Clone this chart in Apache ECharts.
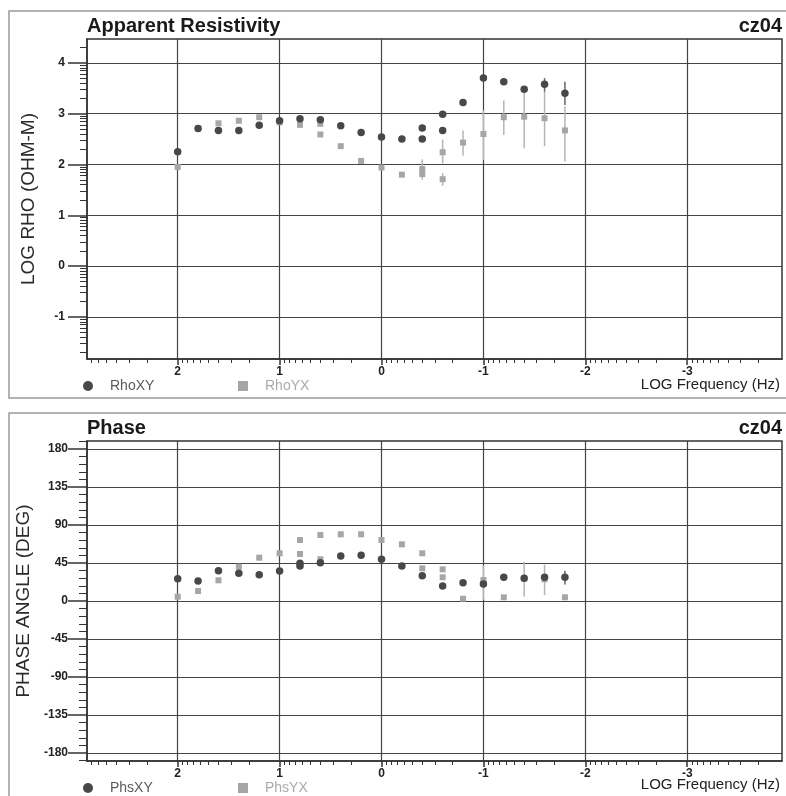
<!DOCTYPE html>
<html>
<head>
<meta charset="utf-8">
<script src="https://cdn.jsdelivr.net/npm/echarts@6/dist/echarts.min.js"></script>
<style>
html, body { margin: 0; padding: 0; background: #fff; }
#main { width: 786px; height: 796px; }
</style>
</head>
<body>
<div id="main"></div>
<script>
// log10 frequency of each sounding point
var rhoXYFreq = [2.0, 1.8, 1.6, 1.4, 1.2, 1.0, 0.8, 0.6, 0.4, 0.2, 0.0, -0.2, -0.4, -0.4, -0.6, -0.6, -0.8, -1.0, -1.2, -1.4, -1.6, -1.8];
var rhoXY = [2.25, 2.71, 2.67, 2.67, 2.77, 2.86, 2.90, 2.88, 2.76, 2.63, 2.54, 2.50, 2.50, 2.72, 2.99, 2.67, 3.22, 3.70, 3.63, 3.48, 3.58, 3.40];
var rhoYXFreq = [2.0, 1.8, 1.6, 1.4, 1.2, 1.0, 0.8, 0.6, 0.6, 0.4, 0.2, 0.0, -0.2, -0.4, -0.4, -0.6, -0.6, -0.8, -1.0, -1.2, -1.4, -1.6, -1.8];
var rhoYX = [1.95, 2.71, 2.81, 2.86, 2.93, 2.83, 2.78, 2.80, 2.59, 2.36, 2.07, 1.94, 1.80, 1.91, 1.81, 2.24, 1.71, 2.43, 2.60, 2.93, 2.94, 2.91, 2.67];

// error bars (low / high)
var rhoXYErrFreq = [-1.6, -1.8];
var rhoXYErrLo = [3.43, 3.17];
var rhoXYErrHi = [3.70, 3.63];
var rhoYXErrFreq = [-0.4, -0.6, -0.6, -0.8, -1.0, -1.2, -1.4, -1.6, -1.8];
var rhoYXErrLo = [1.70, 2.02, 1.58, 2.17, 2.09, 2.58, 2.32, 2.36, 2.06];
var rhoYXErrHi = [2.10, 2.49, 1.83, 2.67, 3.07, 3.26, 3.43, 3.43, 3.14];

var phsXYFreq = [2.0, 1.8, 1.6, 1.4, 1.2, 1.0, 0.8, 0.8, 0.6, 0.4, 0.2, 0.0, -0.2, -0.4, -0.6, -0.8, -1.0, -1.2, -1.4, -1.6, -1.8];
var phsXY = [26.4, 23.7, 35.9, 32.8, 31.2, 35.5, 41.4, 44.6, 45.4, 53.3, 54.1, 49.4, 41.4, 30.0, 17.8, 21.7, 20.1, 28.1, 26.8, 28.1, 28.1];
var phsYXFreq = [2.0, 1.8, 1.6, 1.4, 1.2, 1.0, 0.8, 0.8, 0.6, 0.6, 0.4, 0.2, 0.0, -0.2, -0.4, -0.4, -0.6, -0.6, -0.8, -1.0, -1.2, -1.4, -1.6, -1.8];
var phsYX = [5.1, 11.8, 24.5, 40.6, 51.3, 56.5, 72.2, 55.7, 78.2, 49.4, 79.0, 79.0, 72.2, 67.1, 56.5, 38.7, 37.5, 28.1, 2.7, 24.9, 4.4, 26.8, 25.7, 4.4];

var phsXYErrFreq = [-1.8];
var phsXYErrLo = [19.5];
var phsXYErrHi = [35.9];
var phsYXErrFreq = [-1.0, -1.4, -1.6];
var phsYXErrLo = [1.5, 5.0, 7.0];
var phsYXErrHi = [42.0, 46.5, 43.0];

// tick labels
var freqTicks = [2, 1, 0, -1, -2, -3];
var rhoTicks = [-1, 0, 1, 2, 3, 4];
var phaseTicks = [-180, -135, -90, -45, 0, 45, 90, 135, 180];

var xMin = -3.93, xMax = 2.89;
var rhoMin = -1.83, rhoMax = 4.47;
var phsMin = -189.5, phsMax = 189.5;

var FONT = 'Liberation Sans, Arial, sans-serif';
var DARK = '#484848';
var LIGHT = '#a6a6a6';

// log-decade minor ticks (2..9 in every decade)
function logMinor(lo, hi) {
    var out = [];
    for (var d = Math.floor(lo); d < hi; d++) {
        for (var k = 2; k <= 9; k++) {
            var v = d + Math.log10(k);
            if (v > lo && v < hi) out.push(v);
        }
    }
    return out;
}
function linMinor(lo, hi, step, major) {
    var out = [];
    for (var v = Math.ceil(lo / step) * step; v < hi; v += step) {
        if (v % major !== 0) out.push(v);
    }
    return out;
}

function pairs(xs, ys) {
    return xs.map(function (x, i) { return [x, ys[i]]; });
}

function freqAxis(grid) {
    return {
        type: 'value', gridIndex: grid, inverse: true, min: xMin, max: xMax, position: 'bottom',
        axisLine: { onZero: false, lineStyle: { color: '#333', width: 1.5 } },
        axisTick: { customValues: freqTicks, length: 6, lineStyle: { color: '#333', width: 1.5 } },
        axisLabel: { customValues: freqTicks, margin: 7, color: '#222', fontSize: 12, fontWeight: 'bold', fontFamily: FONT },
        splitLine: { show: true, lineStyle: { color: '#444', width: 1.2 } }
    };
}
function minorX(grid) {
    return {
        type: 'value', gridIndex: grid, inverse: true, min: xMin, max: xMax, position: 'bottom',
        axisLine: { show: false, onZero: false },
        axisTick: { customValues: logMinor(xMin, xMax), length: 4, lineStyle: { color: '#333', width: 1 } },
        axisLabel: { show: false },
        splitLine: { show: false }
    };
}
function valueAxis(grid, min, max, ticks, name, margin) {
    return {
        type: 'value', gridIndex: grid, min: min, max: max, position: 'left',
        name: name, nameLocation: 'middle', nameGap: 49,
        nameTextStyle: { fontSize: 19, color: '#2a2a2a', fontFamily: FONT },
        axisLine: { onZero: false, lineStyle: { color: '#333', width: 1.5 } },
        axisTick: { customValues: ticks, length: 19, lineStyle: { color: '#333', width: 1.5 } },
        axisLabel: { customValues: ticks, margin: margin, color: '#222', fontSize: 12, fontWeight: 'bold', fontFamily: FONT },
        splitLine: { show: true, lineStyle: { color: '#444', width: 1.2 } }
    };
}
function minorY(grid, min, max, ticks, len) {
    return {
        type: 'value', gridIndex: grid, min: min, max: max, position: 'left',
        axisLine: { show: false, onZero: false },
        axisTick: { customValues: ticks, length: len, lineStyle: { color: '#333', width: 1 } },
        axisLabel: { show: false },
        splitLine: { show: false }
    };
}

function errorSeries(name, xi, yi, freq, lo, hi, color) {
    return {
        type: 'custom', name: name, xAxisIndex: xi, yAxisIndex: yi, silent: true, z: 1,
        data: freq.map(function (f, i) { return [f, lo[i], hi[i]]; }),
        encode: { x: 0, y: [1, 2] },
        renderItem: function (params, api) {
            var a = api.coord([api.value(0), api.value(1)]);
            var b = api.coord([api.value(0), api.value(2)]);
            return {
                type: 'line',
                shape: { x1: a[0], y1: a[1], x2: b[0], y2: b[1] },
                style: { stroke: color, lineWidth: 1.5 }
            };
        }
    };
}

function scatter(name, xi, yi, data, symbol, size, color, z) {
    return {
        type: 'scatter', name: name, xAxisIndex: xi, yAxisIndex: yi, z: z,
        symbol: symbol, symbolSize: size, data: data,
        itemStyle: { color: color, opacity: 1 }
    };
}

function legendItem(name, left, top, textColor) {
    return {
        data: [{ name: name, textStyle: { color: textColor } }],
        left: left, top: top, padding: 0, itemWidth: 10, itemHeight: 10,
        textStyle: { fontSize: 14, fontFamily: FONT, lineHeight: 16, padding: [0, 0, 0, 12] }
    };
}

function titleItem(text, pos, top) {
    var t = {
        text: text, top: top, padding: 0,
        textStyle: { fontSize: 20, fontWeight: 'bold', color: '#1a1a1a', fontFamily: FONT }
    };
    if (pos === 'right') t.right = 4; else t.left = 87;
    return t;
}

var chart = echarts.init(document.getElementById('main'));
chart.setOption({
    animation: false,
    backgroundColor: '#fff',
    title: [
        titleItem('Apparent Resistivity', 'left', 16),
        titleItem('cz04', 'right', 16),
        titleItem('Phase', 'left', 418),
        titleItem('cz04', 'right', 418)
    ],
    legend: [
        legendItem('RhoXY', 83, 378, '#5a5a5a'),
        legendItem('RhoYX', 238, 378, '#aaa'),
        legendItem('PhsXY', 83, 780, '#5a5a5a'),
        legendItem('PhsYX', 238, 780, '#aaa')
    ],
    grid: [
        { left: 87, top: 39, width: 695, height: 320, show: true, borderColor: '#333', borderWidth: 1.5, backgroundColor: '#fff' },
        { left: 87, top: 441, width: 695, height: 320, show: true, borderColor: '#333', borderWidth: 1.5, backgroundColor: '#fff' }
    ],
    xAxis: [freqAxis(0), freqAxis(1), minorX(0), minorX(1)],
    yAxis: [
        valueAxis(0, rhoMin, rhoMax, rhoTicks, 'LOG RHO (OHM-M)', 22),
        valueAxis(1, phsMin, phsMax, phaseTicks, 'PHASE ANGLE (DEG)', 19),
        minorY(0, rhoMin, rhoMax, logMinor(rhoMin, rhoMax), 7),
        minorY(1, phsMin, phsMax, linMinor(phsMin, phsMax, 9, 45), 8)
    ],
    graphic: [
        { type: 'rect', silent: true, z: -10, shape: { x: 9, y: 11, width: 790, height: 387 }, style: { fill: 'none', stroke: '#9a9a9a', lineWidth: 1.5 } },
        { type: 'rect', silent: true, z: -10, shape: { x: 9, y: 413, width: 790, height: 400 }, style: { fill: 'none', stroke: '#9a9a9a', lineWidth: 1.5 } },
        { type: 'text', silent: true, right: 6, top: 377, style: { text: 'LOG Frequency (Hz)', font: '15px ' + FONT, fill: '#222' } },
        { type: 'text', silent: true, right: 6, top: 777, style: { text: 'LOG Frequency (Hz)', font: '15px ' + FONT, fill: '#222' } }
    ],
    series: [
        errorSeries('RhoYX err', 0, 0, rhoYXErrFreq, rhoYXErrLo, rhoYXErrHi, '#b5b5b5'),
        errorSeries('RhoXY err', 0, 0, rhoXYErrFreq, rhoXYErrLo, rhoXYErrHi, '#666'),
        scatter('RhoYX', 0, 0, pairs(rhoYXFreq, rhoYX), 'rect', 6, LIGHT, 2),
        scatter('RhoXY', 0, 0, pairs(rhoXYFreq, rhoXY), 'circle', 7.5, DARK, 3),
        errorSeries('PhsYX err', 1, 1, phsYXErrFreq, phsYXErrLo, phsYXErrHi, '#b5b5b5'),
        errorSeries('PhsXY err', 1, 1, phsXYErrFreq, phsXYErrLo, phsXYErrHi, '#666'),
        scatter('PhsYX', 1, 1, pairs(phsYXFreq, phsYX), 'rect', 6, LIGHT, 2),
        scatter('PhsXY', 1, 1, pairs(phsXYFreq, phsXY), 'circle', 7.5, DARK, 3)
    ]
});
</script>
</body>
</html>
